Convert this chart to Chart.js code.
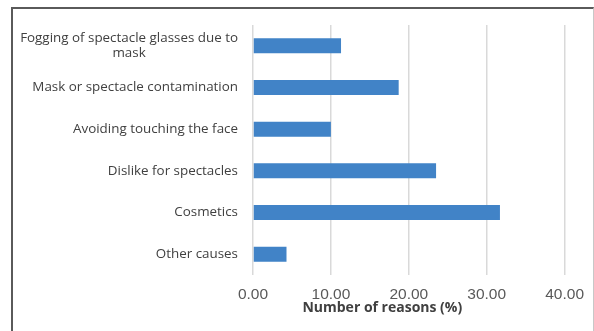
<!DOCTYPE html>
<html>
<head>
<meta charset="utf-8">
<script src="https://cdn.jsdelivr.net/npm/chart.js@4/dist/chart.umd.min.js"></script>
<style>
  html, body { margin: 0; padding: 0; background: #ffffff; }
  #wrap { position: relative; width: 594px; height: 331px; overflow: hidden; }
  #c { position: absolute; left: 0; top: 0; }
  #frame {
    position: absolute; left: 11px; top: 7px; width: 580px; height: 322px;
    border-top: 2px solid #5a5a5a; border-left: 2px solid #5a5a5a;
    border-right: 1px solid #c8c8c8; border-bottom: 1px solid #9a9a9a;
    pointer-events: none;
  }
</style>
</head>
<body>
<div id="wrap">
  <canvas id="c" width="594" height="331"></canvas>
  <div id="frame"></div>
</div>
<script>
// Reasons given, share of responses (%)
const categories = [
  ["Fogging of spectacle glasses due to", "mask"],
  "Mask or spectacle contamination",
  "Avoiding touching the face",
  "Dislike for spectacles",
  "Cosmetics",
  "Other causes"
];
const reasonShares = [11.3, 18.7, 10.0, 23.5, 31.7, 4.3];
const xTickValues = [0, 10, 20, 30, 40];
const xAxisTitle = "Number of reasons (%)";

const labelFont = "'Open Sans', sans-serif";
const tickFont = "'Liberation Sans', Arial, sans-serif";
const labelSize = 13.4;
const labelLine = 15;

// Category labels: right-aligned block, with wrapped lines centred inside the block
const categoryLabelPlugin = {
  id: 'categoryLabels',
  afterDraw(chart) {
    const y = chart.scales.y;
    const ctx = chart.ctx;
    const right = y.right - 15;
    ctx.save();
    ctx.font = labelSize + "px " + labelFont;
    ctx.fillStyle = "#404040";
    ctx.textBaseline = "middle";
    ctx.textAlign = "center";
    chart.data.labels.forEach((lab, i) => {
      const lines = Array.isArray(lab) ? lab : [lab];
      const w = Math.max(...lines.map(l => ctx.measureText(l).width));
      const cx = right - w / 2;
      const cy = y.getPixelForValue(i);
      const y0 = cy - (lines.length - 1) * labelLine / 2;
      lines.forEach((l, k) => ctx.fillText(l, cx, y0 + k * labelLine));
    });
    ctx.restore();
  }
};

// Axis title drawn under the value axis, left of the plot's centre
const axisTitlePlugin = {
  id: 'axisTitle',
  afterDraw(chart) {
    const x = chart.scales.x;
    const ctx = chart.ctx;
    ctx.save();
    ctx.font = "bold 14px " + labelFont;
    ctx.fillStyle = "#404040";
    ctx.textAlign = "center";
    ctx.textBaseline = "middle";
    ctx.fillText(xAxisTitle, x.left + (x.right - x.left) * 0.415, x.top + 33);
    ctx.restore();
  }
};

new Chart(document.getElementById('c'), {
  type: 'bar',
  data: {
    labels: categories,
    datasets: [{
      data: reasonShares,
      backgroundColor: '#4183c7',
      borderWidth: 0,
      categoryPercentage: 1,
      barPercentage: 0.36
    }]
  },
  options: {
    indexAxis: 'y',
    responsive: false,
    animation: false,
    layout: { padding: { top: 25, right: 25, bottom: 0, left: 0 } },
    plugins: { legend: { display: false }, tooltip: { enabled: false } },
    scales: {
      x: {
        min: 0, max: 40,
        afterBuildTicks(scale) { scale.ticks = xTickValues.map(v => ({ value: v })); },
        afterFit(scale) { scale.height = 56; },
        border: { display: false },
        grid: { color: '#d9d9d9', lineWidth: 1.5, drawTicks: false },
        ticks: {
          padding: 10,
          color: '#595959',
          font: { family: tickFont, size: 15.5 },
          callback: v => Number(v).toFixed(2)
        }
      },
      y: {
        afterFit(scale) { scale.width = 253; },
        border: { display: false },
        grid: { display: false, drawTicks: false },
        ticks: { display: false }
      }
    }
  },
  plugins: [categoryLabelPlugin, axisTitlePlugin]
});
</script>
</body>
</html>
